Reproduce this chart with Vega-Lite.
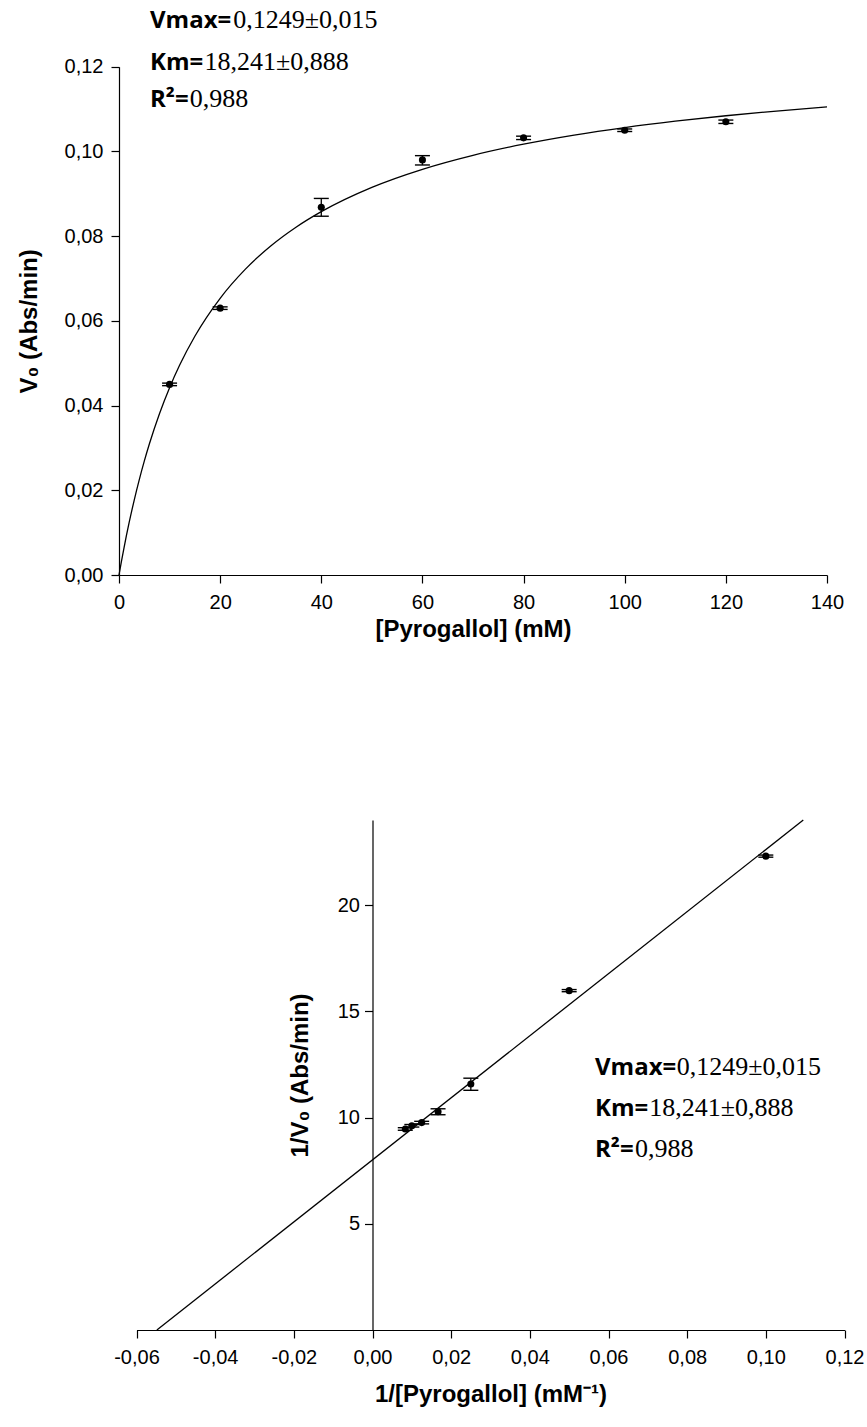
{
  "$schema": "https://vega.github.io/schema/vega-lite/v6.json",
  "width": 867,
  "height": 1427,
  "autosize": {"type": "none"},
  "padding": 0,
  "background": "white",
  "config": {
    "view": {"stroke": null},
    "axis": {
      "grid": false,
      "domainColor": "black",
      "tickColor": "black",
      "labelColor": "black",
      "titleColor": "black",
      "domainWidth": 1.2,
      "tickWidth": 1.2,
      "tickSize": 8,
      "labelFont": "Liberation Sans",
      "labelFontSize": 20,
      "titleFont": "Liberation Sans",
      "titleFontSize": 24,
      "titleFontWeight": "bold",
      "labelFlush": false,
      "labelOverlap": false,
      "labelBound": false
    }
  },
  "datasets": {
    "curve": [
      {"S": 0, "V": 0}, {"S": 0.5, "V": 0.003332}, {"S": 1, "V": 0.006491}, {"S": 2, "V": 0.012341},
      {"S": 3, "V": 0.01764}, {"S": 4, "V": 0.022463}, {"S": 5, "V": 0.026871}, {"S": 6, "V": 0.030915},
      {"S": 8, "V": 0.038078}, {"S": 10, "V": 0.044227}, {"S": 12, "V": 0.049562}, {"S": 15, "V": 0.056361},
      {"S": 20, "V": 0.065323}, {"S": 25, "V": 0.072212}, {"S": 30, "V": 0.077673}, {"S": 35, "V": 0.082108},
      {"S": 40, "V": 0.085781}, {"S": 50, "V": 0.091514}, {"S": 60, "V": 0.095781}, {"S": 70, "V": 0.099081},
      {"S": 80, "V": 0.101709}, {"S": 90, "V": 0.103851}, {"S": 100, "V": 0.105632}, {"S": 110, "V": 0.107134},
      {"S": 120, "V": 0.108419}, {"S": 130, "V": 0.109531}, {"S": 140, "V": 0.110502}
    ],
    "mm": [
      {"S": 10, "V": 0.045, "lo": 0.0447, "hi": 0.0453},
      {"S": 20, "V": 0.063, "lo": 0.0627, "hi": 0.0633},
      {"S": 40, "V": 0.0868, "lo": 0.0847, "hi": 0.0889},
      {"S": 60, "V": 0.098, "lo": 0.0968, "hi": 0.099},
      {"S": 80, "V": 0.1032, "lo": 0.1028, "hi": 0.1036},
      {"S": 100, "V": 0.105, "lo": 0.1047, "hi": 0.1053},
      {"S": 120, "V": 0.107, "lo": 0.1066, "hi": 0.1074}
    ],
    "lb": [
      {"iS": 0.1, "iV": 22.3, "lo": 22.25, "hi": 22.35},
      {"iS": 0.05, "iV": 15.97, "lo": 15.92, "hi": 16.02},
      {"iS": 0.025, "iV": 11.58, "lo": 11.28, "hi": 11.85},
      {"iS": 0.016667, "iV": 10.27, "lo": 10.13, "hi": 10.41},
      {"iS": 0.0125, "iV": 9.76, "lo": 9.7, "hi": 9.82},
      {"iS": 0.01, "iV": 9.61, "lo": 9.55, "hi": 9.67},
      {"iS": 0.008333, "iV": 9.46, "lo": 9.4, "hi": 9.52}
    ],
    "lbline": [{"iS": -0.05482, "iV": 0}, {"iS": 0.10952, "iV": 24}],
    "annTop": [
      {"label": "Vmax=", "value": "0,1249±0,015", "x": 6.13, "xv": 22.6, "y": 0.12907},
      {"label": "Km=", "value": "18,241±0,888", "x": 6.13, "xv": 16.9, "y": 0.1193},
      {"label": "R²=", "value": "0,988", "x": 6.13, "xv": 14.0, "y": 0.1105}
    ],
    "annBot": [
      {"label": "Vmax=", "value": "0,1249±0,015", "x": 0.05657, "xv": 0.07734, "y": 12.0},
      {"label": "Km=", "value": "18,241±0,888", "x": 0.05657, "xv": 0.07037, "y": 10.07},
      {"label": "R²=", "value": "0,988", "x": 0.05657, "xv": 0.06674, "y": 8.155}
    ]
  },
  "layer": [
    {
      "layer": [
        {
          "data": {"name": "curve"},
          "mark": {"type": "line", "color": "black", "strokeWidth": 1.3, "interpolate": "monotone"},
          "encoding": {
            "x": {"field": "S", "type": "quantitative", "title": "[Pyrogallol] (mM)",
              "scale": {"domain": [0, 140], "range": [119, 827], "nice": false, "zero": false},
              "axis": {"orient": "bottom", "offset": -852, "values": [0, 20, 40, 60, 80, 100, 120, 140], "format": "d", "labelPadding": 9, "titlePadding": 5}},
            "y": {"field": "V", "type": "quantitative", "title": "V₀ (Abs/min)",
              "scale": {"domain": [0, 0.12], "range": [575, 66.7], "nice": false, "zero": false},
              "axis": {"orient": "left", "offset": -119, "values": [0, 0.02, 0.04, 0.06, 0.08, 0.1, 0.12], "labelExpr": "replace(format(datum.value, '.2f'), '.', ',')", "labelPadding": 8, "titlePadding": 23}}
          }
        },
        {
          "data": {"name": "mm"},
          "mark": {"type": "rule", "color": "black", "strokeWidth": 1.3},
          "encoding": {
            "x": {"field": "S", "type": "quantitative", "title": "[Pyrogallol] (mM)", "scale": {"domain": [0, 140], "range": [119, 827], "nice": false, "zero": false}},
            "y": {"field": "lo", "type": "quantitative", "title": "V₀ (Abs/min)", "scale": {"domain": [0, 0.12], "range": [575, 66.7], "nice": false, "zero": false}},
            "y2": {"field": "hi"}
          }
        },
        {
          "data": {"name": "mm"},
          "mark": {"type": "tick", "orient": "horizontal", "size": 15, "thickness": 1.4, "color": "black", "opacity": 1},
          "encoding": {
            "x": {"field": "S", "type": "quantitative", "title": "[Pyrogallol] (mM)", "scale": {"domain": [0, 140], "range": [119, 827], "nice": false, "zero": false}},
            "y": {"field": "lo", "type": "quantitative", "title": "V₀ (Abs/min)", "scale": {"domain": [0, 0.12], "range": [575, 66.7], "nice": false, "zero": false}}
          }
        },
        {
          "data": {"name": "mm"},
          "mark": {"type": "tick", "orient": "horizontal", "size": 15, "thickness": 1.4, "color": "black", "opacity": 1},
          "encoding": {
            "x": {"field": "S", "type": "quantitative", "title": "[Pyrogallol] (mM)", "scale": {"domain": [0, 140], "range": [119, 827], "nice": false, "zero": false}},
            "y": {"field": "hi", "type": "quantitative", "title": "V₀ (Abs/min)", "scale": {"domain": [0, 0.12], "range": [575, 66.7], "nice": false, "zero": false}}
          }
        },
        {
          "data": {"name": "mm"},
          "mark": {"type": "point", "filled": true, "size": 50, "color": "black", "opacity": 1},
          "encoding": {
            "x": {"field": "S", "type": "quantitative", "title": "[Pyrogallol] (mM)", "scale": {"domain": [0, 140], "range": [119, 827], "nice": false, "zero": false}},
            "y": {"field": "V", "type": "quantitative", "title": "V₀ (Abs/min)", "scale": {"domain": [0, 0.12], "range": [575, 66.7], "nice": false, "zero": false}}
          }
        },
        {
          "data": {"name": "annTop"},
          "mark": {"type": "text", "align": "left", "baseline": "alphabetic", "font": "Open Sans", "fontWeight": "bold", "fontSize": 24, "color": "black"},
          "encoding": {
            "x": {"field": "x", "type": "quantitative", "title": "[Pyrogallol] (mM)", "scale": {"domain": [0, 140], "range": [119, 827], "nice": false, "zero": false}},
            "y": {"field": "y", "type": "quantitative", "title": "V₀ (Abs/min)", "scale": {"domain": [0, 0.12], "range": [575, 66.7], "nice": false, "zero": false}},
            "text": {"field": "label"}
          }
        },
        {
          "data": {"name": "annTop"},
          "mark": {"type": "text", "align": "left", "baseline": "alphabetic", "font": "Liberation Serif", "fontSize": 26, "color": "black"},
          "encoding": {
            "x": {"field": "xv", "type": "quantitative", "title": "[Pyrogallol] (mM)", "scale": {"domain": [0, 140], "range": [119, 827], "nice": false, "zero": false}},
            "y": {"field": "y", "type": "quantitative", "title": "V₀ (Abs/min)", "scale": {"domain": [0, 0.12], "range": [575, 66.7], "nice": false, "zero": false}},
            "text": {"field": "value"}
          }
        }
      ]
    },
    {
      "layer": [
        {
          "data": {"name": "lbline"},
          "mark": {"type": "line", "color": "black", "strokeWidth": 1.3},
          "encoding": {
            "x": {"field": "iS", "type": "quantitative", "title": "1/[Pyrogallol] (mM⁻¹)",
              "scale": {"domain": [-0.06, 0.12], "range": [136.5, 844.5], "nice": false, "zero": false},
              "axis": {"orient": "bottom", "offset": -97, "values": [-0.06, -0.04, -0.02, 0, 0.02, 0.04, 0.06, 0.08, 0.1, 0.12], "labelExpr": "replace(replace(format(datum.value, '.2f'), '.', ','), '−', '-')", "labelPadding": 9, "titlePadding": 15}},
            "y": {"field": "iV", "type": "quantitative", "title": "1/V₀ (Abs/min)",
              "scale": {"domain": [0, 24], "range": [1330, 820], "nice": false, "zero": false},
              "axis": {"orient": "left", "offset": -372.5, "values": [5, 10, 15, 20], "format": "d", "labelPadding": 5, "titlePadding": 25}}
          }
        },
        {
          "data": {"name": "lb"},
          "mark": {"type": "rule", "color": "black", "strokeWidth": 1.3},
          "encoding": {
            "x": {"field": "iS", "type": "quantitative", "title": "1/[Pyrogallol] (mM⁻¹)", "scale": {"domain": [-0.06, 0.12], "range": [136.5, 844.5], "nice": false, "zero": false}},
            "y": {"field": "lo", "type": "quantitative", "title": "1/V₀ (Abs/min)", "scale": {"domain": [0, 24], "range": [1330, 820], "nice": false, "zero": false}},
            "y2": {"field": "hi"}
          }
        },
        {
          "data": {"name": "lb"},
          "mark": {"type": "tick", "orient": "horizontal", "size": 15, "thickness": 1.4, "color": "black", "opacity": 1},
          "encoding": {
            "x": {"field": "iS", "type": "quantitative", "title": "1/[Pyrogallol] (mM⁻¹)", "scale": {"domain": [-0.06, 0.12], "range": [136.5, 844.5], "nice": false, "zero": false}},
            "y": {"field": "lo", "type": "quantitative", "title": "1/V₀ (Abs/min)", "scale": {"domain": [0, 24], "range": [1330, 820], "nice": false, "zero": false}}
          }
        },
        {
          "data": {"name": "lb"},
          "mark": {"type": "tick", "orient": "horizontal", "size": 15, "thickness": 1.4, "color": "black", "opacity": 1},
          "encoding": {
            "x": {"field": "iS", "type": "quantitative", "title": "1/[Pyrogallol] (mM⁻¹)", "scale": {"domain": [-0.06, 0.12], "range": [136.5, 844.5], "nice": false, "zero": false}},
            "y": {"field": "hi", "type": "quantitative", "title": "1/V₀ (Abs/min)", "scale": {"domain": [0, 24], "range": [1330, 820], "nice": false, "zero": false}}
          }
        },
        {
          "data": {"name": "lb"},
          "mark": {"type": "point", "filled": true, "size": 50, "color": "black", "opacity": 1},
          "encoding": {
            "x": {"field": "iS", "type": "quantitative", "title": "1/[Pyrogallol] (mM⁻¹)", "scale": {"domain": [-0.06, 0.12], "range": [136.5, 844.5], "nice": false, "zero": false}},
            "y": {"field": "iV", "type": "quantitative", "title": "1/V₀ (Abs/min)", "scale": {"domain": [0, 24], "range": [1330, 820], "nice": false, "zero": false}}
          }
        },
        {
          "data": {"name": "annBot"},
          "mark": {"type": "text", "align": "left", "baseline": "alphabetic", "font": "Open Sans", "fontWeight": "bold", "fontSize": 24, "color": "black"},
          "encoding": {
            "x": {"field": "x", "type": "quantitative", "title": "1/[Pyrogallol] (mM⁻¹)", "scale": {"domain": [-0.06, 0.12], "range": [136.5, 844.5], "nice": false, "zero": false}},
            "y": {"field": "y", "type": "quantitative", "title": "1/V₀ (Abs/min)", "scale": {"domain": [0, 24], "range": [1330, 820], "nice": false, "zero": false}},
            "text": {"field": "label"}
          }
        },
        {
          "data": {"name": "annBot"},
          "mark": {"type": "text", "align": "left", "baseline": "alphabetic", "font": "Liberation Serif", "fontSize": 26, "color": "black"},
          "encoding": {
            "x": {"field": "xv", "type": "quantitative", "title": "1/[Pyrogallol] (mM⁻¹)", "scale": {"domain": [-0.06, 0.12], "range": [136.5, 844.5], "nice": false, "zero": false}},
            "y": {"field": "y", "type": "quantitative", "title": "1/V₀ (Abs/min)", "scale": {"domain": [0, 24], "range": [1330, 820], "nice": false, "zero": false}},
            "text": {"field": "value"}
          }
        }
      ]
    }
  ],
  "resolve": {"scale": {"x": "independent", "y": "independent"}, "axis": {"x": "independent", "y": "independent"}}
}
